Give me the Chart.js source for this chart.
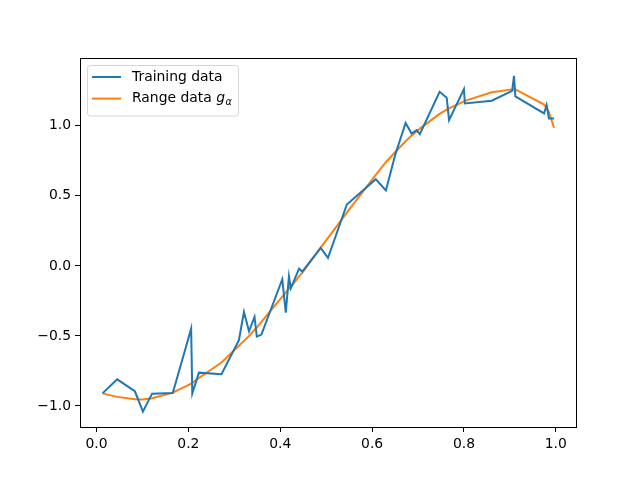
<!DOCTYPE html>
<html>
<head>
<meta charset="utf-8">
<script src="https://cdn.jsdelivr.net/npm/chart.js@4.4.1/dist/chart.umd.min.js"></script>
<style>
  html, body { margin: 0; padding: 0; background: #fff; }
</style>
</head>
<body>
<canvas id="fitChart" width="640" height="480"></canvas>
<script>
// data
var xValues = [
  0.013, 0.045, 0.0835, 0.101, 0.121, 0.166, 0.206, 0.2085, 0.223, 0.272,
  0.310, 0.321, 0.332, 0.344, 0.349, 0.359, 0.4045, 0.412, 0.419, 0.423,
  0.441, 0.448, 0.488, 0.504, 0.545, 0.608, 0.630, 0.651, 0.673, 0.686,
  0.697, 0.704, 0.747, 0.7625, 0.7676, 0.800, 0.802, 0.8606, 0.905, 0.909,
  0.912, 0.9745, 0.980, 0.985, 0.996
];
var trainingValues = [
  -0.91, -0.81, -0.895, -1.04, -0.912, -0.907, -0.448, -0.91, -0.762, -0.774,
  -0.531, -0.329, -0.467, -0.364, -0.505, -0.49, -0.095, -0.333, -0.075, -0.16,
  -0.02, -0.04, 0.129, 0.057, 0.438, 0.619, 0.538, 0.80, 1.02, 0.945,
  0.969, 0.94, 1.243, 1.2, 1.04, 1.262, 1.16, 1.179, 1.25, 1.357,
  1.21, 1.088, 1.148, 1.052, 1.052
];
var rangeValues = [
  -0.91, -0.935, -0.952, -0.953, -0.945, -0.905, -0.84, -0.835, -0.80, -0.69,
  -0.57, -0.535, -0.50, -0.455, -0.44, -0.40, -0.22, -0.19, -0.16, -0.15,
  -0.075, -0.05, 0.13, 0.20, 0.38, 0.65, 0.74, 0.815, 0.89, 0.93,
  0.96, 0.98, 1.085, 1.115, 1.125, 1.175, 1.178, 1.24, 1.26, 1.262,
  1.26, 1.152, 1.128, 1.10, 0.986
];
var xTicks = [0, 0.2, 0.4, 0.6, 0.8, 1.0];
var yTicks = [-1.0, -0.5, 0.0, 0.5, 1.0];

function toPoints(xs, ys) {
  return xs.map(function (x, i) { return { x: x, y: ys[i] }; });
}

var tickFont = { family: "DejaVu Sans", size: 13.9 };

// black frame round the plot area
var frameBox = {
  id: "frameBox",
  afterDatasetsDraw: function (chart) {
    var a = chart.chartArea;
    var ctx = chart.ctx;
    ctx.save();
    ctx.strokeStyle = "#000";
    ctx.lineWidth = 1;
    ctx.strokeRect(Math.round(a.left) + 0.5, Math.round(a.top) + 0.5,
      Math.round(a.right - a.left), Math.round(a.bottom - a.top));
    ctx.restore();
  }
};

// legend inside the plot, upper left, like matplotlib
var innerLegend = {
  id: "innerLegend",
  afterDraw: function (chart) {
    var ctx = chart.ctx;
    var a = chart.chartArea;
    var x0 = a.left + 7.5, y0 = a.top + 7.5;
    ctx.save();
    ctx.beginPath();
    ctx.roundRect(x0, y0, 151, 50.5, 3);
    ctx.fillStyle = "rgba(255,255,255,0.8)";
    ctx.fill();
    ctx.strokeStyle = "#d6d6d6";
    ctx.lineWidth = 1;
    ctx.stroke();

    chart.data.datasets.forEach(function (ds, i) {
      var y = y0 + 11.5 + i * 21.6;
      ctx.beginPath();
      ctx.moveTo(x0 + 4.5, y);
      ctx.lineTo(x0 + 33.5, y);
      ctx.strokeStyle = ds.borderColor;
      ctx.lineWidth = 2;
      ctx.stroke();

      ctx.fillStyle = "#000";
      ctx.textBaseline = "middle";
      ctx.font = "13.9px 'DejaVu Sans'";
      var tx = x0 + 44.5;
      ctx.fillText(ds.legendText, tx, y);
      if (ds.legendMath) {
        tx += ctx.measureText(ds.legendText).width;
        ctx.font = "italic 13.9px 'DejaVu Sans'";
        ctx.fillText(ds.legendMath[0], tx, y);
        tx += ctx.measureText(ds.legendMath[0]).width;
        ctx.font = "italic 9.7px 'DejaVu Sans'";
        ctx.fillText(ds.legendMath[1], tx + 0.5, y + 3.5);
      }
    });
    ctx.restore();
  }
};

new Chart(document.getElementById("fitChart"), {
  type: "line",
  data: {
    datasets: [
      {
        label: "Training data",
        legendText: "Training data",
        data: toPoints(xValues, trainingValues),
        borderColor: "#1f77b4",
        borderWidth: 2,
        pointRadius: 0,
        tension: 0,
      },
      {
        label: "Range data gα",
        legendText: "Range data ",
        legendMath: ["g", "α"],
        data: toPoints(xValues, rangeValues),
        borderColor: "#ff7f0e",
        borderWidth: 2,
        pointRadius: 0,
        tension: 0,
      },
    ],
  },
  plugins: [frameBox, innerLegend],
  options: {
    responsive: false,
    animation: false,
    layout: {
      padding: { left: 0, top: 58, right: 64, bottom: 0 },
    },
    plugins: {
      legend: { display: false },
      tooltip: { enabled: false },
    },
    scales: {
      x: {
        type: "linear",
        min: -0.036,
        max: 1.044,
        afterBuildTicks: function (scale) {
          scale.ticks = xTicks.map(function (v) { return { value: v }; });
        },
        afterFit: function (scale) { scale.height = 53; },
        ticks: {
          color: "#000",
          font: tickFont,
          padding: 4,
          maxRotation: 0,
          callback: function (v) { return v.toFixed(1); },
        },
        grid: {
          drawOnChartArea: false,
          tickLength: 5,
          tickColor: "#000",
        },
        border: { color: "#000" },
      },
      y: {
        min: -1.15,
        max: 1.484,
        afterBuildTicks: function (scale) {
          scale.ticks = yTicks.map(function (v) { return { value: v }; });
        },
        afterFit: function (scale) { scale.width = 80; },
        ticks: {
          color: "#000",
          font: tickFont,
          padding: 4,
          callback: function (v) { return v.toFixed(1).replace("-", "\u2212"); },
        },
        grid: {
          drawOnChartArea: false,
          tickLength: 5,
          tickColor: "#000",
        },
        border: { color: "#000" },
      },
    },
  },
});
</script>
</body>
</html>
